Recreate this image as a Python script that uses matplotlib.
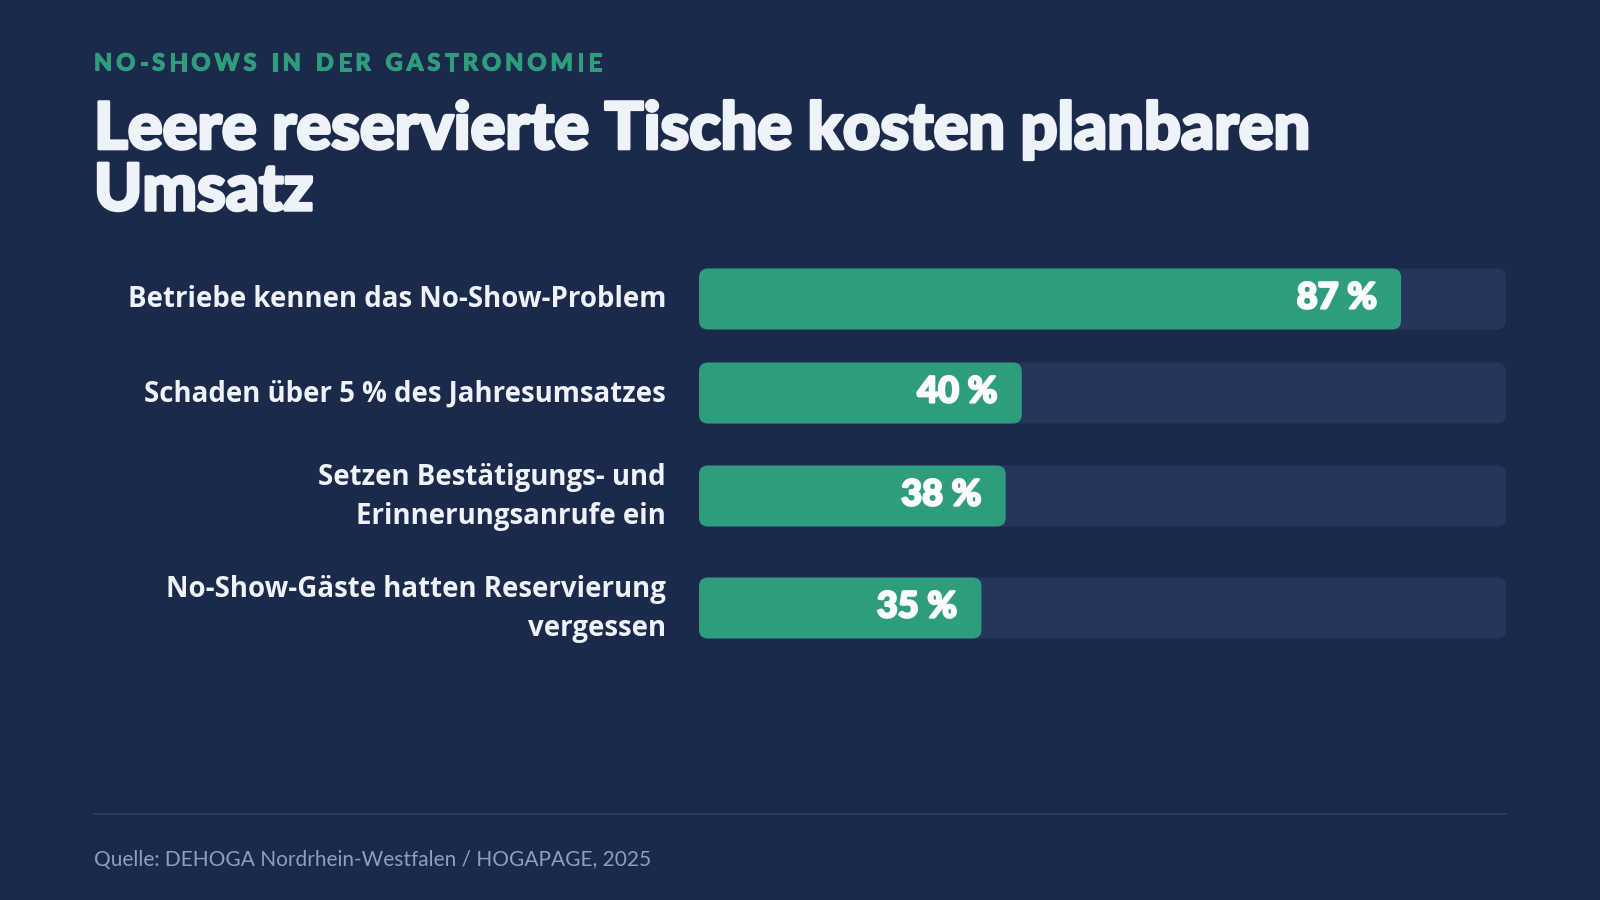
import matplotlib
matplotlib.use('Agg')
import matplotlib.pyplot as plt
import matplotlib.patheffects as pe
from matplotlib.patches import FancyBboxPatch

# data
labels = ['Betriebe kennen das No-Show-Problem',
          'Schaden über 5 % des Jahresumsatzes',
          'Setzen Bestätigungs- und\nErinnerungsanrufe ein',
          'No-Show-Gäste hatten Reservierung\nvergessen']
values = [87, 40, 38, 35]
value_labels = ['87 %', '40 %', '38 %', '35 %']

kicker = 'NO-SHOWS IN DER GASTRONOMIE'
title = 'Leere reservierte Tische kosten planbaren\nUmsatz'
source = 'Quelle: DEHOGA Nordrhein-Westfalen / HOGAPAGE, 2025'

BG = '#1b2a4a'
TRACK = '#26365a'
GREEN = '#2e9d7d'
WHITE = '#eef3fa'
MUTED = '#8d9ec2'
RULE = '#2f3e60'

W, H = 1600, 900
fig = plt.figure(figsize=(16, 9), dpi=100, facecolor=BG)

HEAD = ['Lato', 'DejaVu Sans']
BODY = ['Open Sans', 'DejaVu Sans']
SRC = ['Lato', 'DejaVu Sans']


def heavy(color, lw):
    return [pe.withStroke(linewidth=lw, foreground=color)]


# kicker with letter spacing, drawn char by char
renderer = fig.canvas.get_renderer()
x = 94
for ch in kicker:
    t = fig.text(x / W, 1 - 63 / H, ch, color=GREEN, fontsize=17, fontweight='black',
                 family=HEAD, va='center', ha='left', path_effects=heavy(GREEN, 0.8))
    w = t.get_window_extent(renderer).width if ch != ' ' else 7
    x += w + 4.0

fig.text(94 / W, 1 - 161 / H, title, color=WHITE, fontsize=46.7, fontweight='black',
         family=HEAD, va='center', ha='left', linespacing=1.05,
         path_effects=heavy(WHITE, 2.2))

# bar area: x data 0..100 over track width, y data in figure pixels (top-down)
x0, x1 = 699, 1506
ax = fig.add_axes([x0 / W, 0, (x1 - x0) / W, 1])
ax.set_xlim(0, 100)
ax.set_ylim(H, 0)
ax.axis('off')
ax.set_facecolor('none')

bar_h = 61
radius = 9
aspect = 1 / (100 / (x1 - x0))
rs = radius * 100 / (x1 - x0)

# row centres from the label line counts
centers = []
y = 299
for i, lab in enumerate(labels):
    n = lab.count('\n') + 1
    if i > 0:
        prev = labels[i - 1].count('\n') + 1
        y += 94 + 9 * (n - 1) + 9 * (prev - 1)
    centers.append(y)

for lab, v, vl, cy in zip(labels, values, value_labels, centers):
    ax.add_patch(FancyBboxPatch((0, cy - bar_h / 2), 100, bar_h,
                                boxstyle='round,pad=0,rounding_size=%f' % rs,
                                mutation_aspect=aspect, facecolor=TRACK, edgecolor='none'))
    ax.add_patch(FancyBboxPatch((0, cy - bar_h / 2), v, bar_h,
                                boxstyle='round,pad=0,rounding_size=%f' % rs,
                                mutation_aspect=aspect, facecolor=GREEN, edgecolor='none'))
    ax.annotate(vl, (v, cy), xytext=(-24, 1), textcoords='offset pixels',
                ha='right', va='center', color='white', fontsize=26,
                fontweight='black', family=HEAD, path_effects=heavy('white', 1.6))
    fig.text(666 / W, 1 - (cy + 1) / H, lab, ha='right', va='center', color=WHITE,
             fontsize=19.9, fontweight='bold', family=BODY, linespacing=1.48,
             multialignment='right')

# rule and source
fig.add_artist(plt.Line2D([94 / W, 1506 / W], [1 - 814 / H, 1 - 814 / H],
                          color=RULE, linewidth=1.2))
fig.text(94 / W, 1 - 860 / H, source, color=MUTED, fontsize=15, family=SRC,
         va='center', ha='left')

fig.savefig('out.png', dpi=100, facecolor=BG)
